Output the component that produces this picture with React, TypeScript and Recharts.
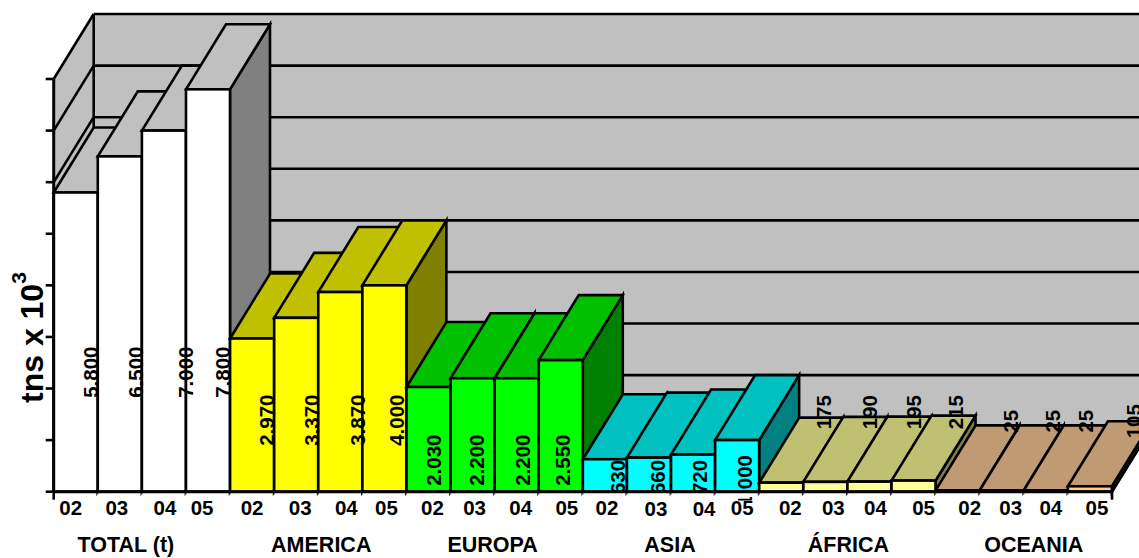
import React from "react";
import {
  BarChart,
  Bar,
  XAxis,
  YAxis,
  CartesianGrid,
  ReferenceArea,
  LabelList,
} from "recharts";

// Production by region, in tonnes x 10^3, for the years 2002-2005.
const years = ["02", "03", "04", "05"];
const regions = ["TOTAL (t)", "AMERICA", "EUROPA", "ASIA", "ÁFRICA", "OCEANIA"];
const totalValues = [5800, 6500, 7000, 7800];
const americaValues = [2970, 3370, 3870, 4000];
const europaValues = [2030, 2200, 2200, 2550];
const asiaValues = [630, 660, 720, 1000];
const africaValues = [175, 190, 195, 215];
const oceaniaValues = [25, 25, 25, 105];
const regionValues = [
  totalValues,
  americaValues,
  europaValues,
  asiaValues,
  africaValues,
  oceaniaValues,
];
const yTicks = [0, 1000, 2000, 3000, 4000, 5000, 6000, 7000, 8000];

// Front-face colour per region as RGB.
const regionRgb = [
  [255, 255, 255],
  [255, 255, 0],
  [0, 255, 0],
  [0, 255, 255],
  [255, 255, 153],
  [255, 204, 153],
];

const rows = regions.flatMap((region, r) =>
  years.map((year, i) => ({
    region,
    regionIndex: r,
    year,
    value: regionValues[r][i],
  }))
);

// Layout
const WIDTH = 1139;
const HEIGHT = 558;
const PLOT_LEFT = 53.7;
const PLOT_RIGHT = 1112;
const PLOT_TOP = 79;
const PLOT_BOTTOM = 491.7;
const BAND = (PLOT_RIGHT - PLOT_LEFT) / rows.length;
const DEPTH_X = 40;
const DEPTH_Y = 65;
const FONT = '"Liberation Sans", Arial, sans-serif';
const WALL = "#C0C0C0";
const INK = "#000";
const EDGE = 2.6;

// Hand placement of the year labels, relative to the centre of each bar.
const yearNudgeX = [-5, -3, 1, -6, 0, 4, 6, 2, 4, 2, 4, 6, 2, 7, 11, 5, 9, 8, 6, 10, 12, 9, 5, 7];
const yearNudgeY = [0, 0, 0, 0, 0, 0, 0, 0, 0, 0, 0, 0, 0, 1, 1, 0, 0, 0, 0, 0, 0, 0, 0, 0];
const regionNudgeX = [-16, 3, -2, -1, 1, 10];
// Value labels: offset from the bar centre, and height of the label centre above the floor.
const valueNudgeX = [
  15, 16, 22, 15, 14, 15, 17, 12, 5, 4, 6, 2, 13, 9, 6, 7, 42, 44, 44, 42, 53, 51, 40, 44,
];
const valueRise = [
  119.5, 119.5, 119.5, 119.5,
  71.5, 71.5, 71.5, 71.5,
  31.5, 31.5, 31.5, 31.5,
  14.7, 14.7, 14.7, 11,
  79.5, 79.5, 79.5, 79.5,
  70.5, 70.5, 70.5, 70.5,
];

const shade = (rgb: number[], k: number) =>
  `rgb(${rgb.map((c) => Math.round(c * k)).join(",")})`;

const pts = (list: number[][]) => list.map((p) => p.join(",")).join(" ");

// Side wall, back wall and floor of the 3D box.
function Walls({ x, y, width, height }: any) {
  const left = x;
  const right = x + width;
  const top = y;
  const floor = y + height;
  return (
    <g>
      <defs>
        <clipPath id="value-label-clip">
          <rect x={0} y={0} width={WIDTH} height={floor} />
          <rect x={0} y={floor + 5.3} width={WIDTH} height={3.5} />
        </clipPath>
      </defs>
      <polygon
        points={pts([
          [left, top],
          [left + DEPTH_X, top - DEPTH_Y],
          [left + DEPTH_X, floor - DEPTH_Y],
          [left, floor],
        ])}
        fill={WALL}
      />
      <polygon
        points={pts([
          [left + DEPTH_X, top - DEPTH_Y],
          [right + DEPTH_X, top - DEPTH_Y],
          [right + DEPTH_X, floor - DEPTH_Y],
          [left + DEPTH_X, floor - DEPTH_Y],
        ])}
        fill={WALL}
      />
      <polygon
        points={pts([
          [left, floor],
          [left + DEPTH_X, floor - DEPTH_Y],
          [right + DEPTH_X, floor - DEPTH_Y],
          [right, floor],
        ])}
        fill={WALL}
        stroke={INK}
        strokeWidth={EDGE}
      />
      <line
        x1={left + DEPTH_X}
        y1={top - DEPTH_Y}
        x2={left + DEPTH_X}
        y2={floor - DEPTH_Y}
        stroke={INK}
        strokeWidth={EDGE}
      />
    </g>
  );
}

// One gridline: it runs along the back wall and down the side wall.
function WallGridLine({ x1, y1, x2, y2 }: any) {
  return (
    <g>
      <line
        x1={x1}
        y1={y1}
        x2={x1 + DEPTH_X}
        y2={y1 - DEPTH_Y}
        stroke={INK}
        strokeWidth={EDGE}
      />
      <line
        x1={x1 + DEPTH_X}
        y1={y1 - DEPTH_Y}
        x2={x2 + DEPTH_X}
        y2={y2 - DEPTH_Y}
        stroke={INK}
        strokeWidth={EDGE}
      />
    </g>
  );
}

// A bar as a box: front, top and side faces.
function BoxBar({ x, y, width, height, payload }: any) {
  const rgb = regionRgb[payload.regionIndex];
  const right = x + width;
  const bottom = y + height;
  return (
    <g stroke={INK} strokeWidth={EDGE} strokeLinejoin="miter">
      <polygon
        points={pts([
          [right, y],
          [right + DEPTH_X, y - DEPTH_Y],
          [right + DEPTH_X, bottom - DEPTH_Y],
          [right, bottom],
        ])}
        fill={shade(rgb, 0.5)}
      />
      <polygon
        points={pts([
          [x, y],
          [x + DEPTH_X, y - DEPTH_Y],
          [right + DEPTH_X, y - DEPTH_Y],
          [right, y],
        ])}
        fill={shade(rgb, 0.753)}
      />
      <rect x={x} y={y} width={width} height={height} fill={shade(rgb, 1)} />
      <line x1={x} y1={bottom} x2={x} y2={bottom + 3} stroke="#808080" strokeWidth={1} />
    </g>
  );
}

// Rotated value label, placed per bar above the floor.
function ValueLabel({ x, y, width, height, value, index }: any) {
  const cx = x + width / 2 + valueNudgeX[index];
  const cy = y + height - valueRise[index];
  const text = value >= 1000 ? `${Math.floor(value / 1000)}.${String(value % 1000).padStart(3, "0")}` : String(value);
  return (
    <g clipPath="url(#value-label-clip)">
      <text
        transform={`translate(${cx + 7.5},${cy}) rotate(-90)`}
        textAnchor="middle"
        fontFamily={FONT}
        fontWeight="bold"
        fontSize={20.5}
        fill={INK}
      >
        {text}
      </text>
    </g>
  );
}

// Year under each bar, region name under the second bar of each group,
// and the two long end ticks on the floor edge.
function YearTick({ x, y, payload }: any) {
  const i = payload.index;
  const r = Math.floor(i / years.length);
  return (
    <g fontFamily={FONT} fontWeight="bold" fill={INK}>
      <text x={x + yearNudgeX[i]} y={515 + yearNudgeY[i]} textAnchor="middle" fontSize={20.5}>
        {payload.value}
      </text>
      {i % years.length === 0 && (
        <text
          x={x + 1.5 * BAND + regionNudgeX[r]}
          y={552}
          textAnchor="middle"
          fontSize={21.5}
        >
          {regions[r]}
        </text>
      )}
      {i === 0 && (
        <line x1={x - BAND / 2} y1={PLOT_BOTTOM} x2={x - BAND / 2} y2={PLOT_BOTTOM + 8} stroke={INK} strokeWidth={EDGE} />
      )}
      {i === rows.length - 1 && (
        <line x1={x + BAND / 2} y1={PLOT_BOTTOM} x2={x + BAND / 2} y2={PLOT_BOTTOM + 8} stroke={INK} strokeWidth={EDGE} />
      )}
    </g>
  );
}

const NoTickText = () => <g />;

export default function App() {
  return (
    <div style={{ position: "absolute", left: 0, top: 0, width: WIDTH, height: HEIGHT, overflow: "hidden" }}>
      <BarChart
        width={WIDTH}
        height={HEIGHT}
        data={rows}
        margin={{ top: PLOT_TOP, right: WIDTH - PLOT_RIGHT, bottom: 0, left: 0 }}
        barCategoryGap={0}
        barGap={0}
      >
        <ReferenceArea y1={0} y2={8000} shape={Walls} {...({ zIndex: -200 } as any)} />
        <CartesianGrid vertical={false} horizontal={WallGridLine as any} />
        <XAxis
          dataKey="year"
          interval={0}
          height={HEIGHT - PLOT_BOTTOM}
          tick={YearTick as any}
          tickLine={false}
          axisLine={{ stroke: INK, strokeWidth: 3 }}
        />
        <YAxis
          domain={[0, 8000]}
          ticks={yTicks}
          interval={0}
          width={PLOT_LEFT}
          tick={NoTickText as any}
          tickSize={8}
          tickLine={{ stroke: INK, strokeWidth: EDGE }}
          axisLine={{ stroke: INK, strokeWidth: 3 }}
        />
        <Bar dataKey="value" shape={BoxBar as any} isAnimationActive={false}>
          <LabelList dataKey="value" content={ValueLabel as any} />
        </Bar>
        <text
          transform="translate(43,403) rotate(-90)"
          fontFamily={FONT}
          fontWeight="bold"
          fontSize={32}
          fill={INK}
        >
          tns x 10
          <tspan dy={-17} fontSize={21}>
            3
          </tspan>
        </text>
      </BarChart>
    </div>
  );
}
